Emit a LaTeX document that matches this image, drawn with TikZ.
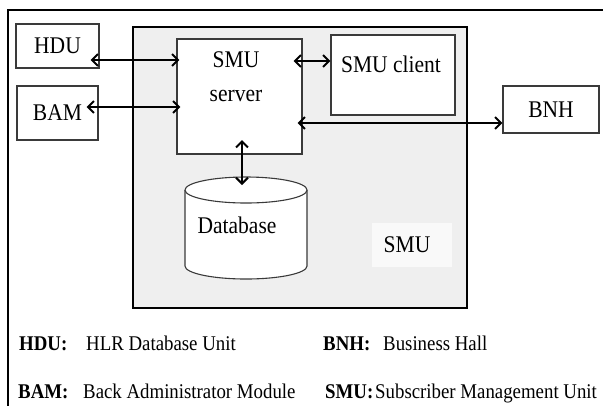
\documentclass[tikz,border=0pt]{standalone}
\usepackage{fontspec}
\setmainfont[FakeStretch=0.9]{Liberation Serif}
\usetikzlibrary{arrows.meta}
\definecolor{smugray}{HTML}{EFEFEF}
\definecolor{boxline}{HTML}{3A3A3A}
\begin{document}
\begin{tikzpicture}[x=1bp,y=-1bp,
  box/.style={draw=boxline, line width=1.1bp, fill=white, inner sep=0pt, rectangle},
  txt/.style={font=\fontsize{24}{28}\selectfont, inner sep=0pt},
  leg/.style={font=\fontsize{21}{25}\selectfont, inner sep=0pt, anchor=base west},
  legb/.style={font=\fontsize{21}{25}\selectfont\bfseries, inner sep=0pt, anchor=base west},
  arr/.style={line width=2bp, {Straight Barb[length=6bp,width=12bp]}-{Straight Barb[length=6bp,width=12bp]}}]
\useasboundingbox (0,0) rectangle (603,405);
\fill[white] (0,0) rectangle (603,405);
% outer frame
\coordinate (ftl) at (8,10);
\coordinate (ftr) at (604,10);
\coordinate (fbl) at (8,406);
\draw[line width=2.5bp, black] (ftr) -- (ftl) -- (fbl);
% SMU big box
\node[draw=black, line width=2bp, fill=smugray, minimum width=334bp, minimum height=281bp, inner sep=0pt] (smu) at (300,167.5) {};
% external boxes
\node[box, minimum width=83bp, minimum height=44bp, txt] (hdu) at (57.5,46) {HDU};
\node[box, minimum width=81bp, minimum height=54bp, txt] (bam) at (57.5,113) {BAM};
\node[box, minimum width=96bp, minimum height=47bp, txt] (bnh) at (551,109.5) {BNH};
% inner boxes
\node[box, minimum width=125bp, minimum height=115bp] (server) at (239.5,96.5) {};
\node[txt, align=center] (servertxt) at (236,77) {SMU\\[6bp]server};
\node[box, minimum width=124bp, minimum height=80bp] (client) at (393,75) {};
\node[txt] (clienttxt) at (391,64) {SMU client};
% SMU label
\node[fill=white!60!smugray, minimum width=80bp, minimum height=44bp, inner sep=0pt] (smulab) at (412,245) {};
\node[txt] (smutxt) at (407,245) {SMU};
% database cylinder
\fill[white] (185,190) -- (185,266) arc[start angle=180, end angle=0, x radius=61, y radius=13] -- (307,190) -- cycle;
\draw[boxline, line width=1.1bp] (185,190) -- (185,266) arc[start angle=180, end angle=0, x radius=61, y radius=13] -- (307,190);
\draw[boxline, line width=1.1bp, fill=white] (246,190) ellipse [x radius=61, y radius=13];
\node[txt] (db) at (237,225) {Database};
\coordinate (dbtop) at (242,185);
% arrows
\draw[arr] ([xshift=-9bp]hdu.east |- 0,60) -- ([xshift=3bp]server.west |- 0,60);
\draw[arr] ([xshift=-12bp]bam.east |- 0,107) -- ([xshift=4bp]server.west |- 0,107);
\draw[arr] ([xshift=-9bp]server.east |- 0,61) -- (client.west |- 0,61);
\draw[arr] ([xshift=-5bp]server.east |- 0,123) -- (bnh.west |- 0,123);
\draw[arr] (dbtop |- 0,140) -- (dbtop);
% legend
\node[legb] (l1) at (19,350) {HDU:};
\node[leg] (l1t) at (86,350) {HLR Database Unit};
\node[legb] (l2) at (18,398) {BAM:};
\node[leg] (l2t) at (83,398) {Back Administrator Module};
\node[legb] (l3) at (323,350) {BNH:};
\node[leg] (l3t) at (383,350) {Business Hall};
\node[legb] (l4) at (325,398) {SMU:};
\node[leg] (l4t) at (375,398) {Subscriber Management Unit};
\end{tikzpicture}
\end{document}
